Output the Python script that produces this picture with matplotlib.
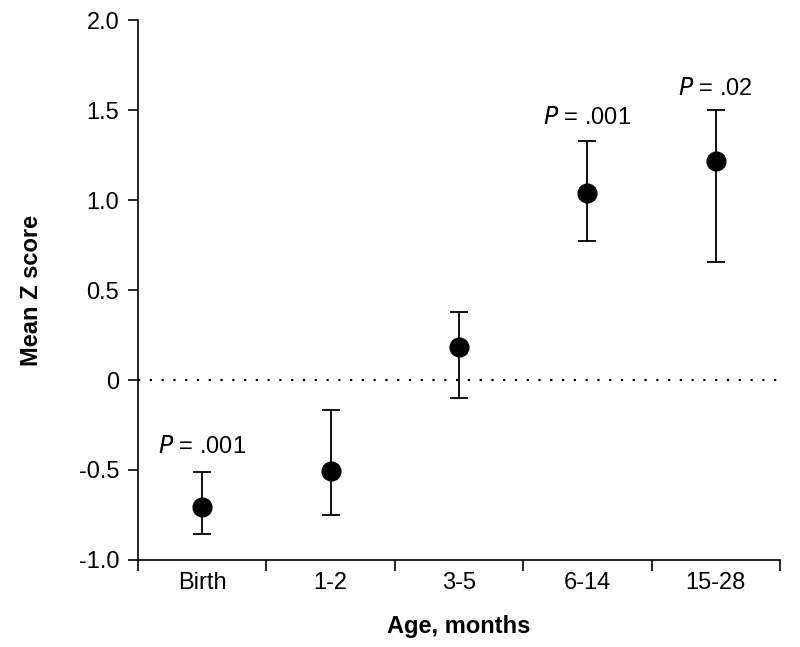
import matplotlib
matplotlib.use('Agg')
import matplotlib.pyplot as plt

plt.rcParams['font.family'] = ['Liberation Sans', 'DejaVu Sans']

# data
ages = ['Birth', '1-2', '3-5', '6-14', '15-28']
means = [-0.705, -0.505, 0.185, 1.04, 1.217]
upper = [-0.51, -0.167, 0.378, 1.33, 1.503]
lower = [-0.856, -0.75, -0.102, 0.775, 0.655]

# P value labels (category index, y position, text)
p_idx = [0, 3, 4]
p_y = [-0.37, 1.455, 1.615]
p_txt = ['.001', '.001', '.02']

x = list(range(len(ages)))
err_lo = [m - l for m, l in zip(means, lower)]
err_hi = [u - m for m, u in zip(means, upper)]

fig = plt.figure(figsize=(8, 6.47), dpi=100)
ax = fig.add_axes([0.1725, 0.1345, 0.8025, 0.8345])

ax.axhline(0, color='black', linestyle=(0, (1, 4.3)), linewidth=1.6)
ax.errorbar(x, means, yerr=[err_lo, err_hi], fmt='o', color='black',
            markersize=13.5, capsize=6.5, elinewidth=1.3, capthick=1.3)

for i, yy, t in zip(p_idx, p_y, p_txt):
    ax.text(i, yy, r'$\it{P}$ = ' + t, ha='center', va='center', fontsize=17)

ax.set_xlim(-0.5, 4.5)
ax.set_ylim(-1.0, 2.0)
ax.set_yticks([-1.0, -0.5, 0, 0.5, 1.0, 1.5, 2.0])
ax.set_yticklabels(['-1.0', '-0.5', '0', '0.5', '1.0', '1.5', '2.0'])
ax.set_xticks([i - 0.5 for i in range(len(ages) + 1)])
ax.set_xticklabels([])
ax.set_xticks(x, minor=True)
ax.set_xticklabels(ages, minor=True)
ax.tick_params(axis='x', which='minor', length=0, labelsize=17, pad=9)
ax.tick_params(axis='x', which='major', length=8, width=1.2)
ax.tick_params(axis='y', length=7.5, width=1.2, labelsize=17, pad=6)

ax.spines['top'].set_visible(False)
ax.spines['right'].set_visible(False)
ax.spines['left'].set_linewidth(1.2)
ax.spines['bottom'].set_linewidth(1.2)

ax.set_xlabel('Age, months', fontsize=17, fontweight='bold', labelpad=15)
ax.set_ylabel('Mean Z score', fontsize=17, fontweight='bold', labelpad=26)

fig.savefig('out.png', dpi=100)
